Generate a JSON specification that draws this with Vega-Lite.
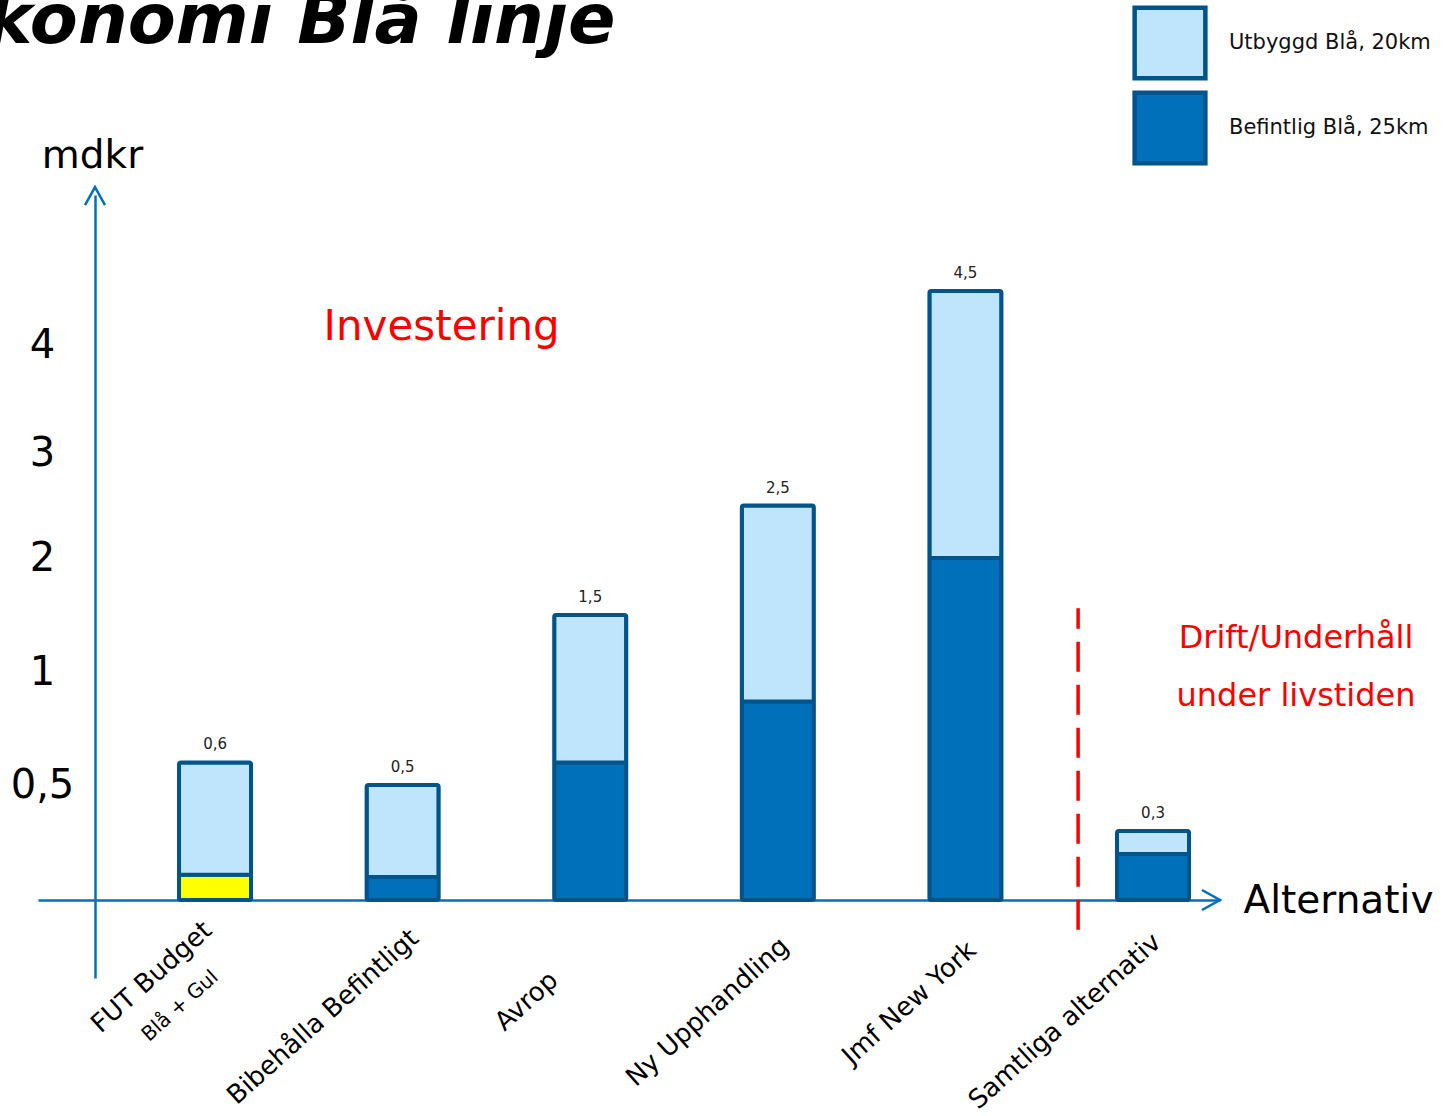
{
  "$schema": "https://vega.github.io/schema/vega-lite/v6.json",
  "width": 1449,
  "height": 1116,
  "autosize": "none",
  "padding": 0,
  "background": "white",
  "config": {
    "view": {"stroke": null},
    "font": "DejaVu Sans",
    "locale": {"number": {"decimal": ",", "thousands": " ", "grouping": [3], "currency": ["", " kr"]}}
  },
  "datasets": {
    "segments": [
      {"alternativ": "FUT Budget", "del": "Blå + Gul", "mdkr": 0.11},
      {"alternativ": "FUT Budget", "del": "Utbyggd Blå, 20km", "mdkr": 0.49},
      {"alternativ": "Bibehålla Befintligt", "del": "Befintlig Blå, 25km", "mdkr": 0.1},
      {"alternativ": "Bibehålla Befintligt", "del": "Utbyggd Blå, 20km", "mdkr": 0.4},
      {"alternativ": "Avrop", "del": "Befintlig Blå, 25km", "mdkr": 0.6},
      {"alternativ": "Avrop", "del": "Utbyggd Blå, 20km", "mdkr": 0.9},
      {"alternativ": "Ny Upphandling", "del": "Befintlig Blå, 25km", "mdkr": 0.87},
      {"alternativ": "Ny Upphandling", "del": "Utbyggd Blå, 20km", "mdkr": 1.63},
      {"alternativ": "Jmf New York", "del": "Befintlig Blå, 25km", "mdkr": 2.0},
      {"alternativ": "Jmf New York", "del": "Utbyggd Blå, 20km", "mdkr": 2.5},
      {"alternativ": "Samtliga alternativ", "del": "Befintlig Blå, 25km", "mdkr": 0.2},
      {"alternativ": "Samtliga alternativ", "del": "Utbyggd Blå, 20km", "mdkr": 0.1}
    ],
    "totals": [
      {"alternativ": "FUT Budget", "total": 0.6},
      {"alternativ": "Bibehålla Befintligt", "total": 0.5},
      {"alternativ": "Avrop", "total": 1.5},
      {"alternativ": "Ny Upphandling", "total": 2.5},
      {"alternativ": "Jmf New York", "total": 4.5},
      {"alternativ": "Samtliga alternativ", "total": 0.3}
    ]
  },
  "layer": [
    {
      "layer": [
        {
          "data": {"name": "segments"},
          "mark": {"type": "bar", "stroke": "#00548C", "strokeWidth": 4, "cornerRadius": 2},
          "encoding": {
            "x": {
              "field": "alternativ",
              "type": "nominal",
              "sort": null,
              "scale": {
                "domain": ["FUT Budget", "Bibehålla Befintligt", "Avrop", "Ny Upphandling", "Jmf New York", "Samtliga alternativ"],
                "range": [38, 1220],
                "paddingInner": 0.616,
                "paddingOuter": 0.4584,
                "align": 0.82
              },
              "axis": {
                "orient": "bottom",
                "offset": -216,
                "domainColor": "#0070C0",
                "domainWidth": 2.5,
                "ticks": false,
                "labelAngle": -42,
                "labelAlign": "right",
                "labelBaseline": "middle",
                "labelPadding": {
                  "condition": [
                    {"test": "datum.value == 'FUT Budget'", "value": 26},
                    {"test": "datum.value == 'Avrop'", "value": 76},
                    {"test": "datum.value == 'Ny Upphandling'", "value": 42},
                    {"test": "datum.value == 'Jmf New York'", "value": 46},
                    {"test": "datum.value == 'Samtliga alternativ'", "value": 38}
                  ],
                  "value": 34
                },
                "labelOffset": {
                  "condition": [
                    {"test": "datum.value == 'FUT Budget'", "value": -7},
                    {"test": "datum.value == 'Avrop'", "value": -36},
                    {"test": "datum.value == 'Ny Upphandling'", "value": 7},
                    {"test": "datum.value == 'Jmf New York'", "value": 7},
                    {"test": "datum.value == 'Samtliga alternativ'", "value": 4}
                  ],
                  "value": 12
                },
                "labelFontSize": 26,
                "labelFont": "DejaVu Sans",
                "labelColor": "black",
                "labelLimit": 500,
                "title": "Alternativ",
                "titleFont": "DejaVu Sans",
                "titleFontSize": 39,
                "titleFontWeight": "normal",
                "titleColor": "black",
                "titleAngle": 0,
                "titleAlign": "left",
                "titleBaseline": "middle",
                "titleX": 1243,
                "titleY": 0
              }
            },
            "y": {
              "field": "mdkr",
              "type": "quantitative",
              "stack": "zero",
              "scale": {
                "domain": [-0.34, 0, 0.5, 1, 2, 3, 4, 5, 5.39],
                "range": [978, 900, 785, 672, 558, 453, 345, 237, 195],
                "nice": false,
                "zero": false
              },
              "axis": {
                "orient": "left",
                "offset": -95,
                "values": [0.5, 1, 2, 3, 4],
                "format": "~g",
                "domainColor": "#0070C0",
                "domainWidth": 2.5,
                "ticks": false,
                "grid": false,
                "labelAlign": "center",
                "labelBaseline": "middle",
                "labelPadding": 53,
                "labelFontSize": 40,
                "labelFont": "DejaVu Sans",
                "labelColor": "black",
                "title": "mdkr",
                "titleFont": "DejaVu Sans",
                "titleFontSize": 39,
                "titleFontWeight": "normal",
                "titleColor": "black",
                "titleAngle": 0,
                "titleAlign": "center",
                "titleBaseline": "middle",
                "titleX": -3,
                "titleY": 155
              }
            },
            "order": {"field": "del", "sort": "ascending"},
            "color": {
              "field": "del",
              "type": "nominal",
              "scale": {
                "domain": ["Utbyggd Blå, 20km", "Befintlig Blå, 25km", "Blå + Gul"],
                "range": ["#BEE5FB", "#0070BA", "#FFFF00"]
              },
              "legend": {
                "orient": "none",
                "legendX": 1132,
                "legendY": 5,
                "values": ["Utbyggd Blå, 20km", "Befintlig Blå, 25km"],
                "title": null,
                "symbolType": "square",
                "symbolSize": 5000,
                "symbolStrokeColor": "#00548C",
                "symbolStrokeWidth": 4.5,
                "symbolOpacity": 1,
                "labelFont": "DejaVu Sans",
                "labelFontSize": 21,
                "labelColor": "#111111",
                "labelOffset": 21,
                "labelLimit": 400,
                "rowPadding": -5
              }
            }
          }
        },
        {
          "data": {"name": "totals"},
          "mark": {"type": "text", "fontSize": 15, "font": "DejaVu Sans", "color": "#222222", "baseline": "middle", "dy": -18},
          "encoding": {
            "x": {"field": "alternativ", "type": "nominal", "sort": null},
            "y": {"field": "total", "type": "quantitative"},
            "text": {"field": "total", "type": "quantitative", "format": "~g"}
          }
        },
        {
          "data": {"values": [{}]},
          "mark": {"type": "text", "text": "Blå + Gul", "fontSize": 20, "font": "DejaVu Sans", "color": "black", "angle": -42, "align": "center", "baseline": "middle", "dx": -47},
          "encoding": {
            "x": {"datum": "FUT Budget"},
            "y": {"datum": -0.325}
          }
        },
        {
          "data": {"values": [{}]},
          "mark": {"type": "text", "text": "Investering", "fontSize": 42, "font": "DejaVu Sans", "color": "#FF0000", "align": "center", "baseline": "middle", "dx": 39},
          "encoding": {
            "x": {"datum": "Bibehålla Befintligt"},
            "y": {"datum": 4.17}
          }
        },
        {
          "data": {"values": [{}]},
          "mark": {"type": "text", "text": ["Drift/Underhåll", "under livstiden"], "lineHeight": 58, "fontSize": 32, "font": "DejaVu Sans", "color": "#FF0000", "align": "center", "baseline": "middle", "dx": 143},
          "encoding": {
            "x": {"datum": "Samtliga alternativ"},
            "y": {"datum": 1.3}
          }
        },
        {
          "data": {"values": [{}]},
          "mark": {"type": "rule", "color": "#FF0000", "strokeWidth": 3.5, "strokeDash": [30, 13]},
          "encoding": {
            "x": {"datum": "Samtliga alternativ", "bandPosition": -0.54},
            "y": {"datum": -0.13},
            "y2": {"datum": 1.56}
          }
        }
      ]
    },
    {
      "data": {"values": [{}]},
      "layer": [
        {
          "mark": {"type": "point", "shape": "M-1,0.9L0,-0.9L1,0.9", "filled": false, "stroke": "#0070C0", "strokeWidth": 2.5, "size": 400, "opacity": 1},
          "encoding": {
            "x": {"datum": 0, "type": "quantitative", "scale": {"domain": [0, 1], "range": [95, 1211]}, "axis": null},
            "y": {"datum": 5.38, "type": "quantitative"}
          }
        },
        {
          "mark": {"type": "point", "shape": "M-0.9,-1L0.9,0L-0.9,1", "filled": false, "stroke": "#0070C0", "strokeWidth": 2.5, "size": 400, "opacity": 1},
          "encoding": {
            "x": {"datum": 1, "type": "quantitative", "axis": null},
            "y": {"datum": 0, "type": "quantitative"}
          }
        },
        {
          "mark": {"type": "text", "text": "Ekonomi Blå linje", "font": "DejaVu Sans", "fontSize": 70, "fontWeight": "bold", "fontStyle": "italic", "color": "black", "align": "left", "baseline": "alphabetic"},
          "encoding": {
            "x": {"datum": -0.1407, "type": "quantitative", "axis": null},
            "y": {"datum": 6.8, "type": "quantitative"}
          }
        }
      ]
    }
  ],
  "resolve": {"scale": {"x": "independent"}}
}
